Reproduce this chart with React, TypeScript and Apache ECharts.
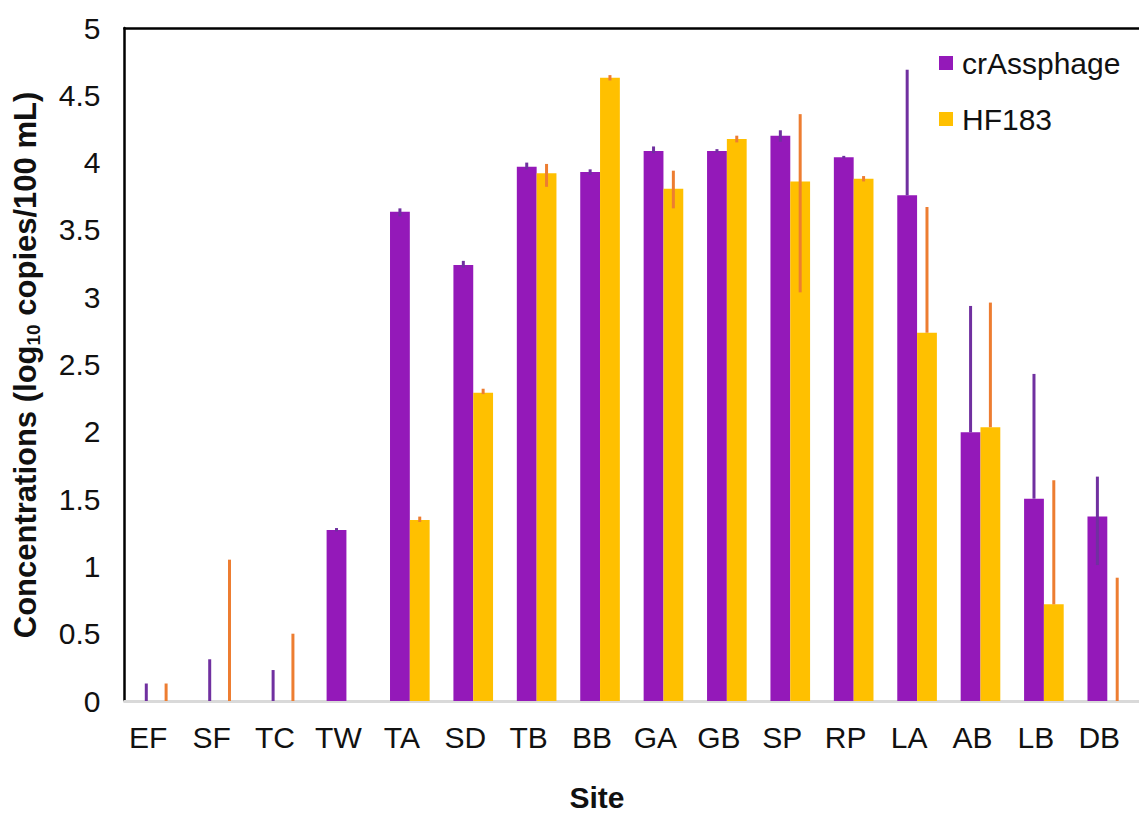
import React, { useEffect, useRef } from "react";
import * as echarts from "echarts";

const sites = ["EF", "SF", "TC", "TW", "TA", "SD", "TB", "BB", "GA", "GB", "SP", "RP", "LA", "AB", "LB", "DB"];
const crAssphage = [0, 0, 0, 1.27, 3.635, 3.24, 3.97, 3.93, 4.086, 4.086, 4.2, 4.04, 3.757, 1.996, 1.503, 1.37];
const hf183 = [0, 0, 0, 0, 1.345, 2.29, 3.92, 4.63, 3.806, 4.175, 3.86, 3.88, 2.736, 2.034, 0.718, 0];
const crLow = [0, 0, 0, 1.26, 3.6, 3.22, 3.95, 3.91, 4.07, 4.075, 4.155, 4.03, 3.757, 1.996, 1.503, 1.01];
const crHigh = [0.13, 0.31, 0.23, 1.285, 3.66, 3.27, 4.0, 3.95, 4.12, 4.1, 4.24, 4.05, 4.69, 2.935, 2.43, 1.667];
const hfLow = [0, 0, 0, null, 1.33, 2.28, 3.82, 4.61, 3.66, 4.15, 3.036, 3.86, 2.736, 2.034, 0.718, 0];
const hfHigh = [0.13, 1.05, 0.5, null, 1.37, 2.32, 3.99, 4.65, 3.94, 4.2, 4.36, 3.9, 3.67, 2.96, 1.64, 0.916];
const yTicks = { min: 0, max: 5, interval: 0.5 };

const PURPLE = "#9419B9";
const GOLD = "#FFC000";
const PURPLE_ERR = "#7030A0";
const ORANGE_ERR = "#ED7D31";
const CAT_GAP = 0.375;

function errData(lo: (number | null)[], hi: (number | null)[]) {
  const out: number[][] = [];
  lo.forEach((l, i) => {
    const h = hi[i];
    if (l !== null && h !== null) out.push([i, l, h]);
  });
  return out;
}

function errSeries(name: string, lo: (number | null)[], hi: (number | null)[], sign: number, color: string) {
  return {
    type: "custom",
    name,
    z: 5,
    data: errData(lo, hi),
    encode: { x: 0, y: [1, 2] },
    renderItem: (params: any, api: any) => {
      const idx = api.value(0);
      const top = api.coord([idx, api.value(2)]);
      const bot = api.coord([idx, api.value(1)]);
      const band = api.size([1, 0])[0];
      const bw = (band * (1 - CAT_GAP)) / 2;
      const x = top[0] + (sign * bw) / 2;
      return {
        type: "line",
        shape: { x1: x, y1: top[1], x2: x, y2: bot[1] },
        style: { stroke: color, lineWidth: 3 },
      };
    },
  };
}

export default function App() {
  const ref = useRef<HTMLDivElement>(null);
  useEffect(() => {
    if (!ref.current) return;
    const chart = echarts.init(ref.current, null, { renderer: "svg" });
    const font = "'Liberation Sans', Arial, sans-serif";
    chart.setOption({
      animation: false,
      textStyle: { fontFamily: font },
      grid: { left: 124.5, right: -10, top: 28, bottom: 113, containLabel: false },
      legend: {
        data: ["crAssphage", "HF183"],
        orient: "vertical",
        left: 939,
        top: 48,
        padding: 0,
        itemWidth: 14,
        itemHeight: 14,
        itemGap: 26,
        icon: "rect",
        textStyle: { fontSize: 30, color: "#111", fontFamily: font, padding: [0, 0, 0, 4] },
      },
      xAxis: [
        {
          type: "category",
          data: sites,
          position: "bottom",
          axisLine: { lineStyle: { color: "#D9D9D9", width: 3 } },
          axisTick: { show: false },
          axisLabel: { fontSize: 30, color: "#111", margin: 21, fontFamily: font, padding: [0, 16, 0, 0] },
        },
        {
          type: "category",
          data: sites,
          position: "top",
          axisLine: { lineStyle: { color: "#000", width: 2.5 } },
          axisTick: { show: false },
          axisLabel: { show: false },
        },
      ],
      yAxis: {
        type: "value",
        min: yTicks.min,
        max: yTicks.max,
        interval: yTicks.interval,
        axisLine: { show: true, lineStyle: { color: "#000", width: 2.5 } },
        axisTick: { show: false },
        splitLine: { show: false },
        axisLabel: { fontSize: 30, color: "#111", margin: 24, fontFamily: font },
      },
      graphic: [
        {
          type: "text",
          x: 25,
          y: 365,
          rotation: Math.PI / 2,
          style: {
            text: "{b|Concentrations (log}{s|10}{b| copies/100 mL)}",
            align: "center",
            verticalAlign: "middle",
            rich: {
              b: { fontSize: 31, fontWeight: "bold", fill: "#111", fontFamily: font, lineHeight: 36 },
              s: { fontSize: 19, fontWeight: "bold", fill: "#111", fontFamily: font, lineHeight: 19, verticalAlign: "bottom" },
            },
          },
        },
        {
          type: "text",
          x: 597,
          y: 797,
          style: {
            text: "Site",
            fontSize: 30,
            fontWeight: "bold",
            fill: "#111",
            fontFamily: font,
            align: "center",
            verticalAlign: "middle",
          },
        },
      ],
      series: [
        {
          name: "crAssphage",
          type: "bar",
          data: crAssphage,
          itemStyle: { color: PURPLE },
          barGap: "0%",
          barCategoryGap: CAT_GAP * 100 + "%",
        },
        {
          name: "HF183",
          type: "bar",
          data: hf183,
          itemStyle: { color: GOLD },
          barGap: "0%",
          barCategoryGap: CAT_GAP * 100 + "%",
        },
        errSeries("crErr", crLow, crHigh, -1, PURPLE_ERR),
        errSeries("hfErr", hfLow, hfHigh, 1, ORANGE_ERR),
      ],
    });
    return () => chart.dispose();
  }, []);
  return <div ref={ref} style={{ position: "absolute", left: 0, top: 0, width: 1139, height: 814 }} />;
}
